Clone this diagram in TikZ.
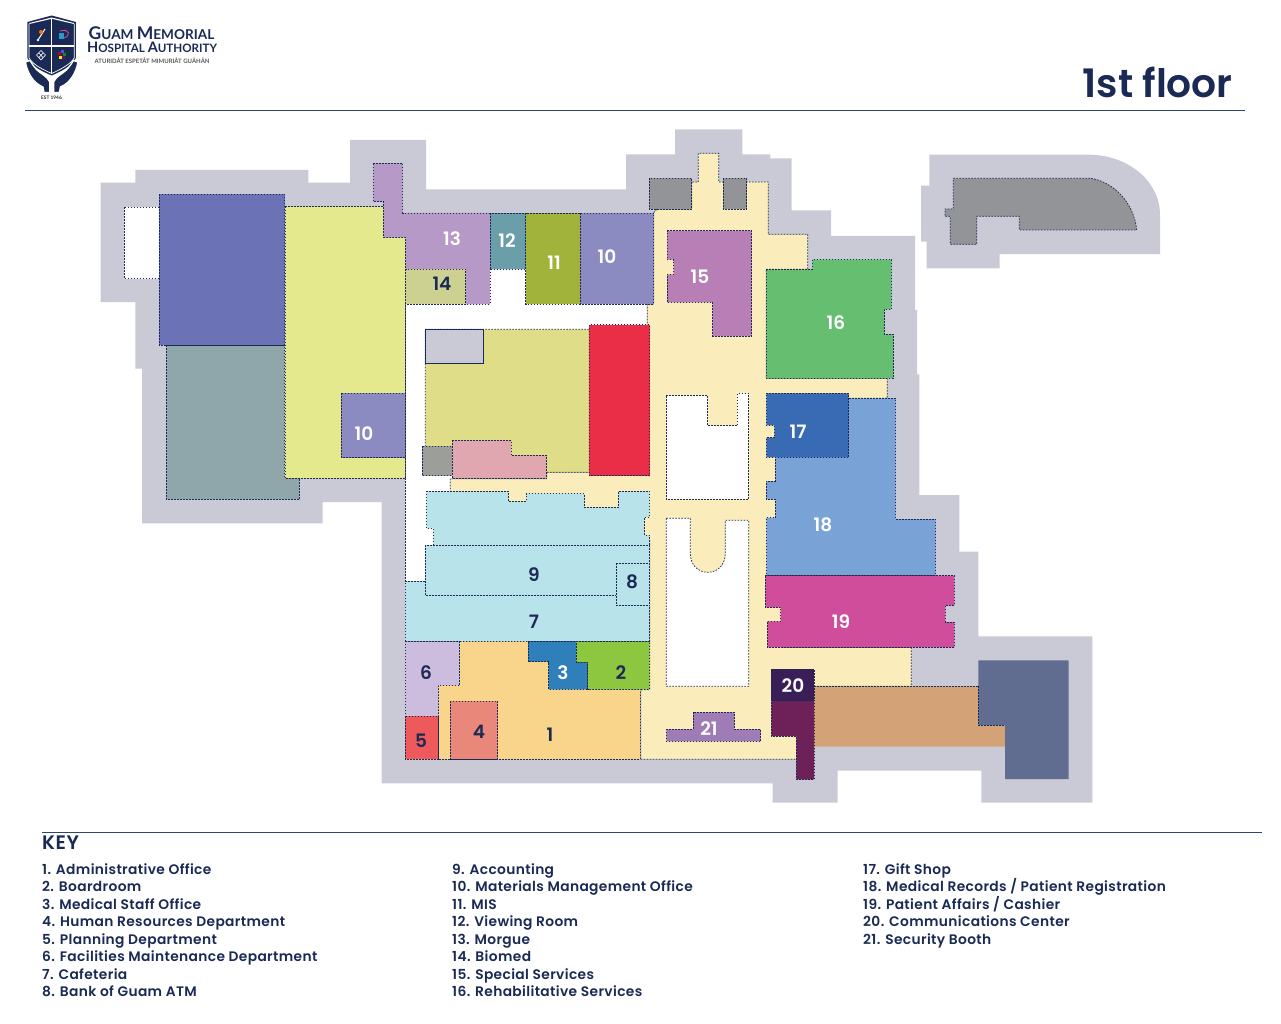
\documentclass[tikz,border=0pt]{standalone}
\usepackage{fontspec}
\setmainfont{Poppins}
\newfontfamily\lblfont{Poppins}[UprightFont=*-SemiBold]
\newfontfamily\keyfont{Poppins}[UprightFont=*-SemiBold,LetterSpace=2.6]
\newfontfamily\logofont{Lato}[UprightFont=*-Bold]
\definecolor{navy}{HTML}{1A2A55}
\definecolor{rulec}{HTML}{2C4672}
\definecolor{site}{HTML}{CACAD6}
\definecolor{corr}{HTML}{FBECBB}
\definecolor{pale}{HTML}{B8E3EA}
\definecolor{mgray}{HTML}{929497}
\tikzset{
 x=1pt,y=-1pt,
 room/.style={draw=navy,line width=0.75pt,dash pattern=on 1.6pt off 1.4pt},
 numw/.style={font=\lblfont\fontsize{18.5}{18.5}\selectfont,text=white,inner sep=0pt},
 numn/.style={font=\lblfont\fontsize{18.5}{18.5}\selectfont,text=navy,inner sep=0pt},
 keyt/.style={font=\keyfont\fontsize{13.8}{13.8}\selectfont,text=navy,anchor=base west,inner sep=0pt},
}
\begin{document}
\begin{tikzpicture}
\useasboundingbox (0,0) rectangle (1281,1024);
\fill[white] (0,0) rectangle (1281,1024);
% site
\fill[site] (100.7,182.7)--(135.3,182.7)--(135.3,170)--(308.3,170)--(308.3,182.7)--(350,182.7)--(350,140)--(426,140)--(426,189.3)--(626,189.3)--(626,154.3)--(675,154.3)--(675,129.3)--(742.3,129.3)--(742.3,154.3)--(770.3,154.3)--(770.3,158.3)--(791.7,158.3)--(791.7,210.3)--(831,210.3)--(831,236)--(915,236)--(915,310)--(917,310)--(917,374.3)--(919.3,374.3)--(919.3,495)--(959.3,495)--(959.3,551.7)--(978.3,551.7)--(978.3,636.3)--(1092.3,636.3)--(1092.3,802.7)--(981.3,802.7)--(981.3,770.7)--(837.7,770.7)--(837.7,802.7)--(772.7,802.7)--(772.7,783.3)--(381.7,783.3)--(381.7,502)--(322.7,502)--(322.7,523.3)--(142,523.3)--(142,368.7)--(135.3,368.7)--(135.3,302)--(100.7,302)--cycle;
\fill[site] (929.3,154.7)--(1088.3,154.7) .. controls (1128,154.7) and (1160,181) .. (1160,215)--(1160,254)--(999.7,254)--(999.7,268.3)--(926.7,268.3)--(926.7,241.7)--(921,241.7)--(921,185.7)--(929.3,185.7)--cycle;
\draw[room,fill=mgray] (953.3,178.3)--(1090.7,178.3) .. controls (1114,182) and (1134,203) .. (1136.7,230)--(1019.3,230)--(1019.3,216.3)--(976.7,216.3)--(976.7,244.3)--(950.3,244.3)--(950.3,216.3)--(945,216.3)--(945,209)--(953.3,209)--cycle;
% white interior
\fill[white] (405.3,304)--(490,304)--(490,269.3)--(525.7,269.3)--(525.7,304)--(647.3,304)--(647.3,500)--(433,560)--(425.3,581.3)--(405.3,581.3)--cycle;
\draw[room] (405.3,304)--(405.3,581.3);
\draw[room,fill=white] (124.3,207) rectangle (160,278.7);
% corridor
\draw[room,fill=corr] (656.7,209.3)--(691.7,209.3)--(691.7,182)--(698.3,182)--(698.3,153.3)--(718.7,153.3)--(718.7,182)--(768.3,182)--(768.3,234.3)--(807.7,234.3)--(807.7,269.3)--(766.3,269.3)--(766.3,378.3)--(887.3,378.3)--(887.3,398.3)--(776,398.3)--(776,576)--(782,576)--(782,647.3)--(911.3,647.3)--(911.3,686.3)--(814,686.3)--(814,759.3)--(640.7,759.3)--(640.7,689.7)--(649.7,689.7)--(649.7,540)--(640,540)--(640,512)--(450.3,512)--(450.3,478.7)--(546.7,478.7)--(546.7,472.3)--(647.3,472.3)--(647.3,304)--(653.7,304)--(653.7,212.7)--cycle;
\draw[room,fill=white] (666.3,395.3)--(707.7,395.3)--(707.7,425.7)--(737.3,425.7)--(737.3,393.3)--(748.7,393.3)--(748.7,499.3)--(666.3,499.3)--cycle;
\draw[room,fill=white] (666.3,518.3)--(690.3,518.3)--(690.3,553) .. controls (690.3,565) and (698,572.3) .. (707.8,572.3) .. controls (717.6,572.3) and (725.3,565) .. (725.3,553)--(725.3,520.3)--(748.7,520.3)--(748.7,686.3)--(666.3,686.3)--cycle;
% west wing
\draw[room,fill={rgb,255:red,143;green,166;blue,170}] (166.3,345)--(284.7,345)--(284.7,478.3)--(299.3,478.3)--(299.3,499.3)--(166.3,499.3)--cycle;
\draw[room,fill={rgb,255:red,108;green,114;blue,182}] (159.3,194)rectangle(284.7,345);
\draw[room,fill={rgb,255:red,228;green,233;blue,141}] (285,206.5)--(383.3,206.5)--(383.3,237.3)--(405.3,237.3)--(405.3,478.5)--(285,478.5)--cycle;
\draw[room,fill={rgb,255:red,139;green,139;blue,194}] (341.3,393.3) rectangle (405.3,457.7);
% north row
\draw[room,fill={rgb,255:red,182;green,153;blue,198}] (373.3,163.3)--(402.7,163.3)--(402.7,213)--(490,213)--(490,304)--(465.7,304)--(465.7,269.3)--(405.7,269.3)--(405.7,237.3)--(383.5,237.3)--(383.5,201.7)--(373.3,201.7)--cycle;
\draw[room,fill={rgb,255:red,204;green,209;blue,145}] (405.7,269.3) rectangle (465.7,304);
\draw[room,fill={rgb,255:red,106;green,158;blue,169}] (490,213) rectangle (525.7,269.3);
\draw[room,fill={rgb,255:red,162;green,179;blue,60}] (525.7,213) rectangle (580.3,304);
\draw[room,fill={rgb,255:red,139;green,139;blue,194}] (580.3,213) rectangle (653.7,304);
\draw[room,fill=mgray] (649.3,178.3) rectangle (691.7,209.3);
\draw[room,fill=mgray] (723.3,178.3) rectangle (746.7,209.3);
% centre block
\draw[room,fill={rgb,255:red,223;green,221;blue,135}] (425.3,329.3)--(589.3,329.3)--(589.3,472.3)--(440,472.3)--(425.3,460)--cycle;
\draw[navy,line width=0.8pt,fill=site] (425.3,329.3) rectangle (483.7,363.3);
\draw[room,fill={rgb,255:red,234;green,46;blue,71}] (589.3,324.7) rectangle (649.7,475.7);
\draw[room,fill={rgb,255:red,156;green,159;blue,153}] (422,446.3) rectangle (452.3,475.7);
\draw[room,fill={rgb,255:red,224;green,167;blue,177}] (452.3,440.3)--(511,440.3)--(511,455.3)--(546.7,455.3)--(546.7,478.7)--(452.3,478.7)--cycle;
% pale blue
\draw[room,fill=pale] (426.3,491.3)--(508.3,491.3)--(508.3,501.3)--(526.3,501.3)--(526.3,493.7)--(584.3,493.7)--(584.3,507.3)--(618.3,507.3)--(618.3,491.3)--(649.7,491.3)--(649.7,517.3)--(644.3,517.3)--(644.3,535)--(649.7,535)--(649.7,545.3)--(433.3,545.3)--(433.3,528.3)--(426.3,528.3)--cycle;
\draw[room,fill=pale] (405.3,581.3)--(425.3,581.3)--(425.3,595.7)--(649.7,595.7)--(649.7,641.3)--(405.3,641.3)--cycle;
\draw[room,fill=pale] (425.3,545.3) rectangle (649.7,595.7);
\draw[room,fill=pale] (616.3,563.3) rectangle (649.7,605.7);
% south block
\draw[room,fill={rgb,255:red,248;green,213;blue,139}] (459.7,641.3)--(528,641.3)--(528,661.7)--(548.7,661.7)--(548.7,689.3)--(640.3,689.3)--(640.3,759.3)--(438.3,759.3)--(438.3,685.3)--(459.7,685.3)--cycle;
\draw[room,fill={rgb,255:red,204;green,188;blue,221}] (405.3,641.3)--(459.7,641.3)--(459.7,685.3)--(438.3,685.3)--(438.3,716.3)--(405.3,716.3)--cycle;
\draw[room,fill={rgb,255:red,238;green,90;blue,91}] (405.3,716.3) rectangle (438.3,759.3);
\draw[room,fill={rgb,255:red,233;green,135;blue,122}] (450.3,701.3) rectangle (497.7,759.3);
\draw[room,fill={rgb,255:red,46;green,127;blue,186}] (528,641.3)--(576,641.3)--(576,662.3)--(587.7,662.3)--(587.7,689.3)--(548.7,689.3)--(548.7,661.7)--(528,661.7)--cycle;
\draw[room,fill={rgb,255:red,141;green,199;blue,64}] (576,641.3)--(649.7,641.3)--(649.7,689.3)--(587.7,689.3)--(587.7,662.3)--(576,662.3)--cycle;
\draw[room,fill={rgb,255:red,160;green,124;blue,182}] (666.3,729.3)--(693,729.3)--(693,712.3)--(734.3,712.3)--(734.3,729.3)--(760.7,729.3)--(760.7,741.3)--(666.3,741.3)--cycle;
% east wing
\draw[room,fill={rgb,255:red,184;green,126;blue,182}] (667,230.7)--(751.7,230.7)--(751.7,336)--(712.7,336)--(712.7,302.3)--(667,302.3)--(667,274.3)--(673.7,274.3)--(673.7,259.7)--(667,259.7)--cycle;
\draw[room,fill={rgb,255:red,102;green,191;blue,113}] (766.3,269.3)--(812.3,269.3)--(812.3,259.7)--(891.7,259.7)--(891.7,309.3)--(884.3,309.3)--(884.3,334.3)--(893.3,334.3)--(893.3,378.3)--(766.3,378.3)--cycle;
\draw[room,fill={rgb,255:red,121;green,162;blue,214}] (840,398.3)--(895.7,398.3)--(895.7,519)--(935.7,519)--(935.7,575.7)--(766.3,575.7)--(766.3,517.7)--(775.7,517.7)--(775.7,499.3)--(766.3,499.3)--(766.3,481)--(775.3,481)--(775.3,440)--(840,440)--cycle;
\draw[room,fill={rgb,255:red,57;green,107;blue,180}] (766.3,393.3)--(848.7,393.3)--(848.7,457.3)--(766.3,457.3)--(766.3,437.7)--(774.3,437.7)--(774.3,425.3)--(766.3,425.3)--cycle;
\draw[room,fill={rgb,255:red,208;green,77;blue,156}] (765.3,575.7)--(954.3,575.7)--(954.3,605.3)--(945.3,605.3)--(945.3,622)--(954.3,622)--(954.3,647.3)--(767.3,647.3)--(767.3,621.3)--(780.7,621.3)--(780.7,607.3)--(765.3,607.3)--cycle;
\fill[color={rgb,255:red,211;green,163;blue,119}] (814,686.3)--(978.3,686.3)--(978.3,725.3)--(1005,725.3)--(1005,746.7)--(814,746.7)--cycle;
\draw[room] (814,686.3)--(978.3,686.3);
\fill[color={rgb,255:red,96;green,108;blue,144}] (978.3,660.3)--(1068.7,660.3)--(1068.7,779)--(1005,779)--(1005,725.3)--(978.3,725.3)--cycle;
\draw[room] (978.3,686.3)--(978.3,725.3)--(1005,725.3);
\draw[room,fill={rgb,255:red,110;green,33;blue,89}] (771.3,700.3)--(814,700.3)--(814,779.3)--(796.3,779.3)--(796.3,736)--(771.3,736)--cycle;
\draw[room,fill={rgb,255:red,58;green,30;blue,88}] (771.3,669.3) rectangle (814,700.3);
% numbers
\node[numw] (n13) at (452,239) {13};
\node[numw] (n12) at (507,241) {12};
\node[numw] (n11) at (554,263) {11};
\node[numw] (n10a) at (607,257) {10};
\node[numn] (n14) at (442,284) {14};
\node[numw] (n10b) at (364,434) {10};
\node[numw] (n15) at (700,277) {15};
\node[numw] (n16) at (836,323) {16};
\node[numw] (n17) at (798,432) {17};
\node[numw] (n18) at (823,525) {18};
\node[numw] (n19) at (841,622) {19};
\node[numw] (n20) at (793,686) {20};
\node[numn] (n9) at (534,575) {9};
\node[numn] (n8) at (632,582) {8};
\node[numn] (n7) at (534,622) {7};
\node[numn] (n6) at (426,673) {6};
\node[numw] (n3) at (563,673) {3};
\node[numn] (n2) at (621,673) {2};
\node[numn] (n1) at (550,735) {1};
\node[numn] (n4) at (479,732) {4};
\node[numn] (n5) at (421,741) {5};
\node[numw] (n21) at (709,729) {21};
% header
\draw[rulec,line width=0.9pt] (25,110.5)--(1245,110.5);
\draw[rulec,line width=0.9pt] (42,832.5)--(1262,832.5);
\node[font=\lblfont\fontsize{39.2}{39.2}\selectfont,text=navy,anchor=east,inner sep=0pt] (title) at (1233,82.5) {1st floor};
\node[font=\keyfont\fontsize{19.5}{19.5}\selectfont,text=navy,anchor=base west,inner sep=0pt] (keyh) at (42,849) {KEY};
% key
\node[keyt] (k1) at (42,874) {1. Administrative Office};
\node[keyt] (k2) at (42,891) {2. Boardroom};
\node[keyt] (k3) at (42,909) {3. Medical Staff Office};
\node[keyt] (k4) at (42,926) {4. Human Resources Department};
\node[keyt] (k5) at (42,944) {5. Planning Department};
\node[keyt] (k6) at (42,961) {6. Facilities Maintenance Department};
\node[keyt] (k7) at (42,979) {7. Cafeteria};
\node[keyt] (k8) at (42,996) {8. Bank of Guam ATM};
\node[keyt] (k9) at (452,874) {9. Accounting};
\node[keyt] (k10) at (452,891) {10. Materials Management Office};
\node[keyt] (k11) at (452,909) {11. MIS};
\node[keyt] (k12) at (452,926) {12. Viewing Room};
\node[keyt] (k13) at (452,944) {13. Morgue};
\node[keyt] (k14) at (452,961) {14. Biomed};
\node[keyt] (k15) at (452,979) {15. Special Services};
\node[keyt] (k16) at (452,996) {16. Rehabilitative Services};
\node[keyt] (k17) at (863,874) {17. Gift Shop};
\node[keyt] (k18) at (863,891) {18. Medical Records / Patient Registration};
\node[keyt] (k19) at (863,909) {19. Patient Affairs / Cashier};
\node[keyt] (k20) at (863,926) {20. Communications Center};
\node[keyt] (k21) at (863,944) {21. Security Booth};
% logo
\fill[navy] (51.7,15.5)--(75.8,22)--(75.8,58) .. controls (72,66) and (60,72) .. (51.7,75.5) .. controls (43,72) and (31,66) .. (27.4,58)--(27.4,22)--cycle;
\fill[white] (51.7,17.5)--(74,23)--(74,24)--(51.7,18.8)--(29.3,24)--(29.3,23)--cycle;
\fill[white] (29,45.5) rectangle (74,46.7);
\fill[white] (51,19) rectangle (52.4,74);
\draw[white,line width=0.7pt] (29,24)--(29,58) .. controls (33,65) and (44,70) .. (51.7,73.5) .. controls (59,70) and (70,65) .. (74.2,58)--(74.2,24);
\draw[white,line width=1.3pt,fill=navy] (25.5,62) .. controls (27,72) and (33,83) .. (43,87) -- (44,92.5)--(49.8,92.5)--(49.8,82) .. controls (47,76) and (41,74) .. (37,70) .. controls (34,67) and (31.5,63) .. (30,60.5)--cycle;
\draw[white,line width=1.3pt,fill=navy] (77.9,62) .. controls (76.4,72) and (70.4,83) .. (60.4,87) -- (59.4,92.5)--(53.6,92.5)--(53.6,82) .. controls (56.4,76) and (62.4,74) .. (66.4,70) .. controls (69.4,67) and (71.9,63) .. (73.4,60.5)--cycle;
% logo icons
\draw[white,line width=1pt] (38,40)--(45,29);
\fill[orange!85!red] (41,32) circle (2pt);
\fill[white] (38,40) circle (1.4pt);
\fill[cyan!60!teal] (58.5,33.5) rectangle (63.5,39.5);
\draw[magenta!70,line width=0.7pt] (60,31) .. controls (70,28) and (71,36) .. (64,38);
\draw[white,line width=0.6pt] (41,50.5)--(36.5,55)--(41,60)--(45.5,55)--cycle (38.7,52.8)--(43.2,57.8) (43.2,52.8)--(38.7,57.8);
\fill[red!80!black] (58,52) rectangle (61,55);
\fill[blue!70] (61,50.5) rectangle (64,53.5);
\fill[green!60!black] (63,53) rectangle (66,56);
\fill[yellow!90!orange] (59,56) rectangle (62,59);
\fill[violet] (62,56.5) rectangle (65,59.5);
\node[font=\logofont,text=navy,anchor=west,inner sep=0pt] (lg1) at (88.5,33) {\fontsize{17.5}{17.5}\selectfont G\fontsize{13.6}{14}\selectfont UAM \fontsize{17.5}{17.5}\selectfont M\fontsize{13.6}{14}\selectfont EMORIAL};
\node[font=\logofont,text=navy,anchor=west,inner sep=0pt] (lg2) at (87,47.8) {\fontsize{14.5}{14.5}\selectfont H\fontsize{11.6}{12}\selectfont OSPITAL \fontsize{14.5}{14.5}\selectfont A\fontsize{11.6}{12}\selectfont UTHORITY};
\node[font=\logofont\fontsize{6}{6}\selectfont,text=black!65,anchor=west,inner sep=0pt] (lg3) at (94.5,61) {ATURIDÅT ESPETÅT MIMURIÅT GUÅHÅN};
\node[font=\logofont\fontsize{4.8}{4.8}\selectfont,text=black!80,inner sep=0pt] (lg4) at (51.5,97.3) {EST 1946};
\end{tikzpicture}
\end{document}
